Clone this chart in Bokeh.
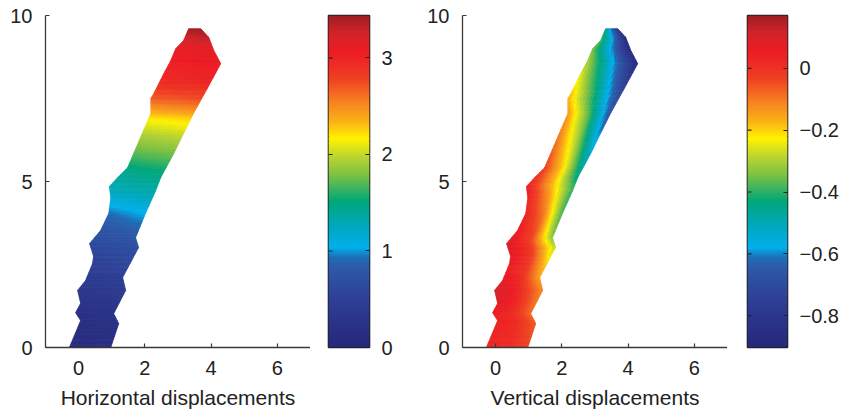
import numpy as np
from bokeh.plotting import figure
from bokeh.layouts import row
from bokeh.models import (Range1d, FixedTicker, LinearColorMapper,
                          ColumnDataSource, CustomJSTickFormatter)
from bokeh.embed import file_html
from bokeh.resources import INLINE

# ---------------- data ----------------
# outline of the deforming strip (same in both panels)
left_edge_y = [0.0, 0.81, 1.05, 1.33, 1.72, 2.02, 2.53, 2.75, 3.13, 3.52, 4.04, 4.5, 4.85,
               5.12, 5.42, 5.84, 6.54, 7.05, 7.5, 7.65, 8.25, 8.64, 9.0, 9.25, 9.6]
left_edge_x = [-0.28, 0.06, -0.09, 0.06, -0.03, 0.21, 0.42, 0.45, 0.33, 0.66, 0.91, 0.97, 0.93,
               1.18, 1.48, 1.66, 1.96, 2.18, 2.18, 2.27, 2.57, 2.78, 2.93, 3.17, 3.32]
right_edge_y = [0.0, 0.72, 1.02, 1.72, 2.11, 3.01, 3.31, 4.04, 4.73, 5.12, 5.84, 6.45,
                7.05, 7.83, 8.55, 8.95, 9.34, 9.6]
right_edge_x = [0.97, 1.21, 1.06, 1.42, 1.33, 1.81, 1.72, 2.02, 2.33, 2.48, 2.87, 3.17,
                3.47, 3.90, 4.29, 4.08, 3.93, 3.69]

# horizontal displacement along the strip (left side / right side)
hd_y     = [0.0, 1.0, 2.0, 3.0, 3.7, 4.1, 4.6, 5.4, 5.8, 6.4, 6.9, 7.2, 7.5, 8.0, 9.0, 9.3, 9.6]
hd_left  = [0.06, 0.18, 0.38, 0.58, 0.80, 0.95, 1.20, 1.48, 1.68, 1.93, 2.18, 2.45, 2.68, 2.95, 3.08, 3.25, 3.42]
hd_right = [0.10, 0.24, 0.45, 0.68, 0.92, 1.06, 1.30, 1.56, 1.75, 2.00, 2.25, 2.52, 2.75, 3.00, 3.12, 3.30, 3.42]

# vertical displacement across the strip (left side / middle / right side)
vd_y     = [0.0, 1.0, 1.7, 2.3, 3.1, 3.5, 4.3, 4.8, 5.5, 6.5, 7.6, 8.5, 9.3, 9.6]
vd_left  = [0.03, 0.04, 0.12, 0.05, 0.10, 0.06, 0.03, 0.06, -0.03, -0.10, -0.17, -0.28, -0.38, -0.42]
vd_mid   = [0.02, 0.02, 0.03, 0.00, -0.02, -0.05, -0.12, -0.15, -0.22, -0.32, -0.42, -0.55, -0.60, -0.62]
vd_right = [-0.03, -0.08, -0.12, -0.17, -0.30, -0.36, -0.40, -0.40, -0.50, -0.62, -0.72, -0.86, -0.88, -0.80]

h_range = (0.0, 3.44)
v_range = (-0.903, 0.171)
h_ticks = [0, 1, 2, 3]
v_ticks = [-0.8, -0.6, -0.4, -0.2, 0]
x_ticks = [0, 2, 4, 6]
y_ticks = [0, 5, 10]
x_label_h = "Horizontal displacements"
x_label_v = "Vertical displacements"

# ---------------- colour map ----------------
anchors = [(0.00, "#26287a"), (0.14, "#2e3f95"), (0.24, "#2d5aa8"), (0.27, "#1f6db5"),
           (0.30, "#00b0ec"), (0.36, "#00a8c0"), (0.44, "#00a77a"), (0.52, "#7dc142"),
           (0.57, "#b5d334"), (0.63, "#fff200"), (0.68, "#fbb316"), (0.74, "#f58220"),
           (0.81, "#ef4123"), (0.89, "#ed1c24"), (0.95, "#d2232a"), (1.00, "#9e1f24")]


def _rgb(h):
    return [int(h[i:i + 2], 16) for i in (1, 3, 5)]


pos = [a[0] for a in anchors]
cols = np.array([_rgb(a[1]) for a in anchors], dtype=float)
palette = []
for f in np.linspace(0, 1, 256):
    c = [int(round(np.interp(f, pos, cols[:, k]))) for k in range(3)]
    palette.append("#%02x%02x%02x" % tuple(c))

FONT = "Liberation Sans"
TXT = "#222222"
AX = "#3a3a3a"
TOP, BOTTOM, FH = 15, 69, 332


def h_value(y, t):
    return (1 - t) * np.interp(y, hd_y, hd_left) + t * np.interp(y, hd_y, hd_right)


def v_value(y, t):
    L = np.interp(y, vd_y, vd_left)
    M = np.interp(y, vd_y, vd_mid)
    R = np.interp(y, vd_y, vd_right)
    if t < 0.5:
        return L + (M - L) * t * 2
    return M + (R - M) * (t - 0.5) * 2


def mesh(value_fn, ncols=16):
    ys = np.unique(np.round(np.concatenate([np.linspace(0, 9.6, 193), left_edge_y, right_edge_y]), 6))
    xl = np.interp(ys, left_edge_y, left_edge_x)
    xr = np.interp(ys, right_edge_y, right_edge_x)
    ts = np.linspace(0, 1, ncols + 1)
    XS, YS, V = [], [], []
    for i in range(len(ys) - 1):
        y0, y1 = ys[i], ys[i + 1]
        w0 = xr[i] - xl[i]
        w1 = xr[i + 1] - xl[i + 1]
        for j in range(ncols):
            t0, t1 = ts[j], ts[j + 1]
            XS.append([xl[i] + w0 * t0, xl[i] + w0 * t1, xl[i + 1] + w1 * t1, xl[i + 1] + w1 * t0])
            YS.append([y0, y0, y1, y1])
            V.append(float(value_fn(0.5 * (y0 + y1), 0.5 * (t0 + t1))))
    return ColumnDataSource(dict(xs=XS, ys=YS, v=V))


def panel(value_fn, rng, label, border_left):
    p = figure(frame_width=265, frame_height=FH, x_range=Range1d(-1, 7), y_range=Range1d(0, 10),
               output_backend="svg", toolbar_location=None,
               min_border_left=border_left, min_border_right=0,
               min_border_top=TOP, min_border_bottom=BOTTOM)
    p.outline_line_color = None
    p.grid.visible = False
    mapper = LinearColorMapper(palette=palette, low=rng[0], high=rng[1])
    src = mesh(value_fn)
    p.patches("xs", "ys", source=src,
              fill_color={"field": "v", "transform": mapper},
              line_color={"field": "v", "transform": mapper}, line_width=0.7)
    p.xaxis.ticker = FixedTicker(ticks=x_ticks)
    p.yaxis.ticker = FixedTicker(ticks=y_ticks)
    p.xaxis.axis_label = label
    for ax in (p.xaxis[0], p.yaxis[0]):
        ax.axis_line_color = AX
        ax.axis_line_width = 1.3
        ax.major_tick_line_color = AX
        ax.major_tick_line_width = 1.2
        ax.major_tick_in = 4
        ax.major_tick_out = 0
        ax.minor_tick_line_color = None
        ax.major_label_text_font = FONT
        ax.major_label_text_font_size = "20px"
        ax.major_label_text_color = TXT
        ax.axis_label_text_font = FONT
        ax.axis_label_text_font_size = "21px"
        ax.axis_label_text_font_style = "normal"
        ax.axis_label_text_color = TXT
        ax.axis_label_standoff = 8
    p.xaxis[0].major_label_standoff = 13
    p.yaxis[0].major_label_standoff = 13
    return p


def colorbar(rng, ticks, formatter, fw, bl, br):
    cb = figure(frame_width=fw, frame_height=FH, x_range=Range1d(0, 1), y_range=Range1d(rng[0], rng[1]),
                output_backend="svg", toolbar_location=None,
                min_border_left=bl, min_border_right=br,
                min_border_top=TOP, min_border_bottom=BOTTOM,
                x_axis_location=None, y_axis_location="right")
    cb.grid.visible = False
    edges = np.linspace(rng[0], rng[1], len(palette) + 1)
    step = edges[1] - edges[0]
    tops = np.minimum(edges[1:] + 0.6 * step, rng[1])
    cb.quad(left=0, right=1, bottom=edges[:-1], top=tops,
            fill_color=palette, line_color=None)
    # inward tick marks on the left side of the bar
    cb.segment(x0=0, x1=0.1, y0=ticks, y1=ticks, line_color="#222222", line_width=1.2)
    cb.outline_line_color = "#222222"
    cb.outline_line_width = 1.6
    ax = cb.yaxis[0]
    ax.ticker = FixedTicker(ticks=ticks)
    if formatter is not None:
        ax.formatter = formatter
    ax.axis_line_color = None
    ax.major_tick_line_color = "#222222"
    ax.major_tick_line_width = 1.2
    ax.major_tick_in = 4
    ax.major_tick_out = 0
    ax.minor_tick_line_color = None
    ax.major_label_text_font = FONT
    ax.major_label_text_font_size = "20px"
    ax.major_label_text_color = TXT
    ax.major_label_standoff = 12
    return cb


v_fmt = CustomJSTickFormatter(code="return tick == 0 ? '0' : '\u2212' + Math.abs(tick).toFixed(1);")

p1 = panel(h_value, h_range, x_label_h, 45)
c1 = colorbar(h_range, h_ticks, None, 41, 18, 51)
p2 = panel(v_value, v_range, x_label_v, 42)
c2 = colorbar(v_range, v_ticks, v_fmt, 40, 20, 55)

layout = row(p1, c1, p2, c2)
open("out.html", "w").write(file_html(layout, INLINE))
